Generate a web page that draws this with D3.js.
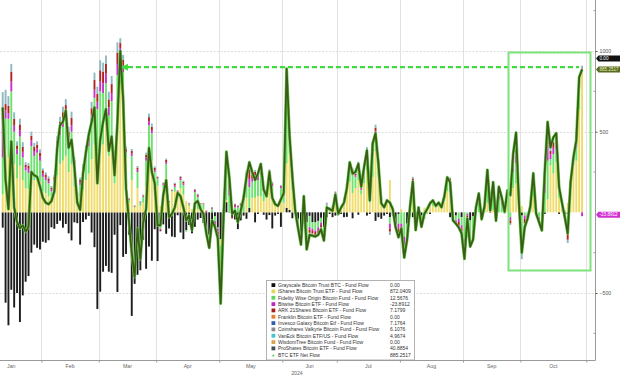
<!DOCTYPE html>
<html>
<head>
<meta charset="utf-8">
<script src="https://cdn.jsdelivr.net/npm/d3@7"></script>
<style>
  html, body { margin: 0; padding: 0; background: #fff; }
  svg { display: block; font-family: "Liberation Sans", Arial, sans-serif; }
</style>
</head>
<body>
<div id="chart"></div>
<script>
//! ===== 0. Data (US$ m, one value per trading day, 11 Jan -> 30 Oct 2024) =====
const netFlow = [
  650, 200, 20, 440, 30, -60, -100, -80, -120, -90, 250, 230, 220, 160,
  90, 60, 50, 70, 130, 400, 540, 560, 630, 400, 450, 280, 60, 15, 240, 370, 480, 560, 650, 180,
  450, 560, 640, 380, 470, 230, 560, 1000, 700, 150, -50, -250, -400, -100, -290, -60, 20, 400, 250, 180,
  -80, -80, 110, 200, -30, -10, 30, 120, 100, 30, -50, -20, -110, 56, 70, 20, -10, -130, -220, -50, -90, -160,
  -565, -30, 375, 220, -10, 10, -60, 10, 90, 220, 310, 250, 200, 240, 300, 140, 100, 250, 90, 50, 40, 80,
  120, 890, 480, 220, 10, -100, -200, 100, -230, -140, -145, -150, -140, -105, -175, 30, 20, 10, 110,
  -10, 30, 60, 150, 310, 240, 250, 300, 160, 280, 384, 74, 427, 490, 300, 56, 31, 74, 60, 20, -93, -155,
  -100, -280, -170, 30, 190, -110, 30, -90, -10, 20, 56, 74, 40, 60, 31, 100, 217, 186, -50, -70, -93, -130,
  -288, -38, -212, -169, 28, 117, -43, 39, 263, 12, 187, -52, 158, 92, 4, 136, 106, 365, 494, 61,
  -250, -93, -40, 40, 242, -8, -60, -112, 250, 560, 403, 465, 490, 155, 60, -31, -130, 186, 341, 446, 837, 885
];
const gbtcFlow = [
  -95, -560, -700, -480, -590, -500, -680, -515, -430, -395, -250, -200, -220, -230,
  -182, -188, -173, -93, -102, -72, -52, -95, -72, -130, -174, -62, -67, -200, -60, -44, -22, -125, -216, -599,
  -492, -368, -332, -368, -375, -139, -494, -79, -276, -258, -139, -642, -443, -387, -359, -170, -350, -212, -300, -105,
  -302, -81, -75, -133, -100, -150, -154, -18, -125, -166, -110, -79, -130, -90, -45, -35, -66, -130, -139, -82, -25, -94,
  -167, -54, 63, 4, -28, -44, -104, -50, -20, -40, 27, 0, -62, -10, 0, -15, -45, -17, -100, -20, -10, -90,
  0, 28, 15, -37, 0, -40, -121, 0, -62, -22, -62, -62, -53, -34, -90, -30, -10, -30, -20,
  0, -10, -30, -28, 0, -37, 0, -15, 0, 0, -20, -10, 0, -53, -30, -40, -20, -10, -30, -20, -73, -10,
  0, 0, -70, -20, -30, -30, 0, -20, 0, 0, -10, 0, 0, 0, 0, 0, 0, -30, -10, -20, 0, -30,
  0, 0, -50, -23, 0, 0, 0, 0, 0, 0, 0, 0, 0, 0, 0, 0, 0, 0, 0, 0,
  -20, 0, 0, 0, 0, 0, 0, 0, -10, 0, 0, 0, 0, -10, 0, -15, -10, 0, 0, 0, 0, 0
];
const ibitFlow = [
  112, 386, 340, 450, 300, 210, 290, 200, 150, 145, 230, 200, 210, 190,
  130, 120, 100, 70, 110, 230, 300, 320, 350, 250, 300, 160, 60, 100, 140, 200, 240, 330, 420, 380,
  420, 420, 550, 350, 400, 180, 500, 849, 590, 340, 60, 200, 30, 150, 40, 60, 160, 320, 320, 100,
  165, 40, 150, 210, 60, 130, 128, 100, 150, 110, 70, 40, 20, 70, 20, 30, 20, 0, 0, 0, 0, 0,
  -37, 0, 12, 0, 0, 0, 0, 0, 0, 90, 0, 90, 90, 100, 100, 70, 90, 180, 100, 60, 40, 100,
  60, 274, 350, 140, 20, 0, 0, 50, 0, 0, 0, 0, 0, 0, 0, 30, 10, 20, 100,
  10, 30, 60, 120, 190, 120, 150, 200, 110, 180, 260, 60, 220, 380, 220, 70, 40, 60, 200, 40, 0, 0,
  20, 0, 0, 50, 100, 0, 20, 0, 30, 30, 40, 40, 30, 40, 30, 70, 130, 120, 0, 0, 0, 0,
  0, 0, 0, 0, 0, 0, 0, 0, 60, 16, 15, 0, 0, 0, 0, 99, 184, 150, 180, 30,
  40, 0, 0, 0, 97, 0, 0, 0, 0, 80, 290, 240, 310, 90, 60, 0, 60, 150, 290, 320, 640, 872
];
const fbtcFlow = [
  227, 195, 240, 300, 200, 150, 180, 140, 110, 100, 180, 150, 160, 130,
  90, 80, 80, 60, 80, 150, 180, 210, 220, 180, 200, 120, 40, 70, 100, 140, 170, 230, 290, 260,
  330, 320, 250, 250, 290, 120, 350, 150, 280, 30, 15, 150, 5, 100, 20, 35, 160, 220, 170, 150,
  45, -20, 20, 90, 5, 5, 30, 25, 50, 60, -10, 10, 0, 55, 75, 20, 30, -10, -40, 20, -30, -6,
  -191, 5, 160, 100, 20, 30, 30, 40, 80, 120, 130, 100, 120, 100, 130, 60, 30, 60, 60, 10, 10, 50,
  40, 379, 80, 70, -10, -30, -40, 30, -100, -70, -40, -50, -40, -30, -40, 20, 10, 10, 20,
  -10, 10, 20, 40, 80, 110, 70, 80, 30, 60, 90, 20, 130, 100, 70, 20, 10, 15, -40, 0, -10, -60,
  -70, -150, -60, -10, 80, -50, 10, -40, -30, -10, 20, 25, 10, 15, 0, 20, 60, 70, -20, -30, -40, -50,
  -162, -10, -150, -90, 30, 70, -20, 20, 110, 0, 56, -20, 80, 50, 10, 20, -30, 100, 125, 20,
  -144, -20, -10, 20, 103, 0, -30, -60, 120, 240, 40, 120, 80, 50, 0, 10, -60, 20, 30, 80, 130, 12.6
];
const bitbFlow = [
  238, 50, 35, 60, 40, 30, 40, 35, 20, 25, 35, 30, 25, 25,
  20, 15, 15, 12, 15, 30, 40, 45, 45, 35, 40, 20, 10, 15, 20, 25, 30, 40, 50, 45,
  60, 60, 60, 50, 50, 25, 70, 20, 40, 10, 5, 15, 3, 15, 3, 5, 20, 25, 20, 10,
  5, -5, 5, 10, 0, 0, 10, 5, 10, 10, 0, 3, 0, 8, 8, 0, 3, 5, -10, 5, -15, -20,
  -30, 5, 60, 50, 5, 10, 5, 5, 10, 20, 50, 20, 20, 20, 25, 10, 10, 10, 10, 0, 0, 10,
  10, 60, 15, 20, 0, -10, -10, 10, -20, -15, -10, -10, -20, -15, -20, 5, 5, 5, 5,
  0, 0, 5, 8, 15, 20, 10, 15, 10, 15, 20, 0, 30, 25, 15, 0, 0, 5, -30, 0, -5, -30,
  -20, -50, -10, 5, 15, -10, 0, -10, -5, 0, 3, 5, 0, 5, 0, 5, 10, 10, -10, -10, -20, -20,
  -30, -10, -5, -20, 0, 20, -10, 10, 40, -2, 40, -10, 30, 20, -3, 5, -20, 40, 60, 5,
  -20, -20, -10, 10, 20, -4, -10, -20, 60, 100, 30, 40, 30, 10, 0, -10, -60, 5, 8, 20, 25, -23.9
];
const arkbFlow = [
  65, 40, 45, 60, 40, 25, 35, 30, 15, 20, 30, 25, 25, 25,
  20, 20, 15, 12, 15, 35, 40, 45, 50, 35, 45, 25, 10, 15, 20, 25, 35, 45, 60, 50,
  70, 70, 60, 50, 55, 25, 70, 30, 35, 15, 5, 15, 3, 12, 3, 5, 15, 25, 20, 15,
  5, -10, 5, 15, 5, 5, 10, 5, 10, 10, 0, 3, 0, 8, 8, 5, 3, 5, -31, 5, -15, -31,
  -99, 5, 40, 40, -10, 10, 5, 10, 12, 15, 60, 25, 20, 15, 25, 8, 10, 10, 10, 0, 0, 5,
  5, 70, 10, 15, 0, -15, -20, 5, -30, -20, -20, -20, -15, -15, -15, 0, 0, 0, 0,
  -5, 0, 0, 5, 15, 15, 10, 10, 5, 15, 20, 0, 25, 20, 15, 0, 0, 0, -20, 0, -5, -40,
  -20, -50, -20, 5, 15, -15, 0, -15, -5, 0, 3, 4, 0, 0, 0, 5, 10, 10, -10, -10, -23, -20,
  -40, -10, -5, -25, -2, 15, -10, 5, 30, -2, 50, -15, 30, 15, -3, 7, -20, 50, 80, 5,
  -60, -30, -10, 5, 12, -4, -15, -20, 50, 70, 20, 35, 35, 10, 0, -10, -40, 6, 8, 15, 25, 7.2
];
const otherFlow = [
  103, 89, 60, 50, 40, 25, 35, 30, 15, 15, 25, 25, 20, 20,
  12, 13, 13, 9, 12, 27, 32, 35, 37, 30, 39, 17, 7, 15, 20, 24, 27, 40, 46, 44,
  62, 58, 52, 48, 50, 19, 64, 30, 31, 13, 4, 12, 2, 10, 3, 5, 15, 22, 20, 10,
  2, -4, 5, 8, 0, 0, 6, 3, 5, 6, 0, 3, 0, 5, 4, 0, 0, 0, 0, 2, -5, -9,
  -41, 9, 40, 26, 3, 4, 4, 5, 8, 15, 43, 15, 12, 15, 20, 7, 5, 7, 10, 0, 0, 5,
  5, 79, 10, 12, 0, -5, -9, 5, -18, -13, -13, -8, -12, -11, -10, 5, 5, 5, 5,
  -5, 0, 5, 5, 10, 12, 10, 10, 5, 10, 14, 4, 22, 18, 10, 6, 1, 4, -20, 0, 0, -15,
  -10, -30, -10, 0, 10, -5, 0, -5, 0, 0, 0, 0, 0, 0, 1, 0, 7, 6, 0, 0, -10, -10,
  -56, -8, -2, -11, 0, 12, -3, 4, 23, 0, 26, -7, 18, 7, 0, 5, -8, 25, 49, 1,
  -46, -23, -10, 5, 10, 0, -5, -12, 30, 70, 23, 30, 35, 5, 0, -6, -20, 5, 5, 11, 17, 17.1
];

const legendNames = [
  "Grayscale Bitcoin Trust BTC - Fund Flow",
  "iShares Bitcoin Trust ETF - Fund Flow",
  "Fidelity Wise Origin Bitcoin Fund - Fund Flow",
  "Bitwise Bitcoin ETF - Fund Flow",
  "ARK 21Shares Bitcoin ETF - Fund Flow",
  "Franklin Bitcoin ETF - Fund Flow",
  "Invesco Galaxy Bitcoin Etf - Fund Flow",
  "Coinshares Valkyrie Bitcoin Fund - Fund Flow",
  "VanEck Bitcoin ETF/US - Fund Flow",
  "WisdomTree Bitcoin Fund - Fund Flow",
  "ProShares Bitcoin ETF - Fund Flow",
  "BTC ETF Net Flow"
];
const legendValues = ["0.00", "872.0409", "12.5676", "-23.8912", "7.1799", "0.00",
  "7.1764", "6.1076", "4.9674", "0.00", "40.8854", "885.2517"];
const legendColors = ["#111111", "#e3d65a", "#5fd35f", "#c026c0", "#a81c1c", "#e8802a",
  "#2f5fb0", "#8a8a8a", "#45c3d3", "#d8a24a", "#3f4f5a", "#38c038"];

const yTicks = [-500, 500, 1000];
const yMinorTicks = [-750, -250, 250, 750, 1250];
const marketHolidays = ["2024-01-15", "2024-02-19", "2024-03-29", "2024-05-27",
  "2024-06-19", "2024-07-04", "2024-09-02"];

//! ===== I. Calendar of trading days =====
const fmtDay = d3.timeFormat("%Y-%m-%d");
const days = d3.timeDays(new Date(2024, 0, 2), new Date(2024, 10, 1))
  .filter(d => d.getDay() !== 0 && d.getDay() !== 6 && !marketHolidays.includes(fmtDay(d)));
const firstDay = 7; // 11 Jan = 8th session of the year

const rows = netFlow.map((v, i) => ({
  j: firstDay + i,
  net: v,
  gbtc: gbtcFlow[i],
  ibit: ibitFlow[i],
  fbtc: fbtcFlow[i],
  bitb: bitbFlow[i],
  arkb: arkbFlow[i],
  other: otherFlow[i]
}));

// month boundaries (half a session before first session of each month)
const bounds = [-0.5];
for (let m = 1; m < 10; m++) bounds.push(days.findIndex(d => d.getMonth() === m) - 0.5);
bounds.push(days.length - 0.5);

//! ===== II. Chart =====
const W = 620, H = 375;
const plotRight = 595.5, plotBottom = 360.5;

const svg = d3.select("#chart").append("svg")
  .attr("width", W)
  .attr("height", H);

const step = 2.868;
const x = d3.scaleLinear()
  .domain([firstDay, firstDay + rows.length - 1])
  .range([2.7, 2.7 + (rows.length - 1) * step]);

const y = d3.scaleLinear()
  .domain([-500, 1000])
  .range([293, 51]);

svg.append("clipPath").attr("id", "plot-clip")
  .append("rect").attr("x", 0).attr("y", 0).attr("width", plotRight).attr("height", plotBottom);

// Gridlines
const grid = svg.append("g");
grid.selectAll("line.v")
  .data(bounds.slice(1))
  .enter().append("line")
  .attr("x1", d => Math.round(x(d)) + 0.5).attr("x2", d => Math.round(x(d)) + 0.5)
  .attr("y1", 0).attr("y2", plotBottom)
  .attr("stroke", "#e2e2e2").attr("stroke-width", 1);
grid.selectAll("line.h")
  .data(yTicks)
  .enter().append("line")
  .attr("x1", 0).attr("x2", plotRight)
  .attr("y1", d => Math.round(y(d)) + 0.5).attr("y2", d => Math.round(y(d)) + 0.5)
  .attr("stroke", "#dcdcdc").attr("stroke-width", 1)
  .attr("stroke-dasharray", "2,1.5");

// Stacked bars
const keys = ["gbtc", "ibit", "fbtc", "bitb", "arkb", "other"];
const barColors = {
  gbtc: "#1c1c1c", ibit: "#efdc6a", fbtc: "#6ee26e",
  bitb: "#c832c8", arkb: "#b02222", other: "#8fb8c0"
};
const stacked = d3.stack().keys(keys).offset(d3.stackOffsetDiverging)(rows);

const plot = svg.append("g").attr("clip-path", "url(#plot-clip)");
const barW = 1.9;

plot.selectAll("g.series")
  .data(stacked)
  .enter().append("g")
  .attr("fill", d => barColors[d.key])
  .selectAll("rect")
  .data(d => d)
  .enter().append("rect")
  .attr("x", d => x(d.data.j) - barW / 2)
  .attr("width", barW)
  .attr("y", d => y(Math.max(d[0], d[1])))
  .attr("height", d => Math.abs(y(d[0]) - y(d[1])));

// Net flow line
const netLine = d3.line()
  .x(d => x(d.j))
  .y(d => y(d.net));

plot.append("path")
  .datum(rows)
  .attr("fill", "none")
  .attr("stroke", "#67cf4f")
  .attr("stroke-width", 3)
  .attr("stroke-linejoin", "round")
  .attr("d", netLine);
plot.append("path")
  .datum(rows)
  .attr("fill", "none")
  .attr("stroke", "#3c5a18")
  .attr("stroke-width", 1.8)
  .attr("stroke-linejoin", "round")
  .attr("d", netLine);

// Annotation: dashed level line with arrow, highlight box
const lastRow = rows[rows.length - 1];
const levelY = y(900);
svg.append("line")
  .attr("x1", 128).attr("x2", x(lastRow.j) - 3)
  .attr("y1", levelY).attr("y2", levelY)
  .attr("stroke", "#3fdc3f").attr("stroke-width", 2.2)
  .attr("stroke-dasharray", "5,3");
svg.append("path")
  .attr("d", `M121,${levelY} L128,${levelY - 3.5} L128,${levelY + 3.5} Z`)
  .attr("fill", "#3fdc3f");

svg.append("rect")
  .attr("x", 508.5).attr("y", 52.5)
  .attr("width", 82).attr("height", 218)
  .attr("fill", "none")
  .attr("stroke", "#7ee27e").attr("stroke-width", 2);

//! ===== III. Axes =====
// bottom
svg.append("line")
  .attr("x1", 0).attr("x2", plotRight)
  .attr("y1", plotBottom).attr("y2", plotBottom)
  .attr("stroke", "#9a9a9a");
const xAxis = svg.append("g")
  .attr("transform", `translate(0,${plotBottom})`)
  .call(d3.axisBottom(x).tickValues(bounds.slice(1)).tickSize(2).tickFormat(""));
xAxis.select(".domain").remove();
xAxis.selectAll("line").attr("stroke", "#9a9a9a");

const monthFmt = d3.timeFormat("%b");
svg.selectAll("text.month")
  .data(d3.range(10))
  .enter().append("text")
  .attr("x", m => x((bounds[m] + bounds[m + 1]) / 2))
  .attr("y", 367.5)
  .attr("text-anchor", "middle")
  .attr("font-size", 5.2)
  .attr("fill", "#666")
  .text(m => monthFmt(new Date(2024, m, 1)));
svg.append("text")
  .attr("x", 297).attr("y", 374.5)
  .attr("text-anchor", "middle")
  .attr("font-size", 5.2)
  .attr("fill", "#666")
  .text("2024");

// right
svg.append("line")
  .attr("x1", plotRight).attr("x2", plotRight)
  .attr("y1", 0).attr("y2", plotBottom)
  .attr("stroke", "#9a9a9a");
const yAxis = svg.append("g")
  .attr("transform", `translate(${plotRight},0)`)
  .call(d3.axisRight(y).tickValues(yTicks).tickSize(2).tickFormat(d3.format("d")));
yAxis.select(".domain").remove();
yAxis.selectAll("line").attr("stroke", "#555");
yAxis.selectAll("text")
  .attr("font-size", 5.2)
  .attr("fill", "#555")
  .attr("x", 4);
svg.selectAll("line.minor")
  .data(yMinorTicks)
  .enter().append("line")
  .attr("x1", plotRight - 2).attr("x2", plotRight)
  .attr("y1", d => y(d)).attr("y2", d => y(d))
  .attr("stroke", "#999");

// last value tags
const tags = [
  { v: 0, yPos: 58.5, text: legendValues[0], fill: "#111", color: "#fff" },
  { v: lastRow.net, yPos: y(lastRow.net), text: legendValues[11], fill: "#566b1c", color: "#eef0c8" },
  { v: bitbFlow[bitbFlow.length - 1], yPos: y(bitbFlow[bitbFlow.length - 1]) - 1.5, text: legendValues[3], fill: "#d22fd2", color: "#fff" }
];
const tagG = svg.selectAll("g.tag")
  .data(tags)
  .enter().append("g");
tagG.append("path")
  .attr("d", d => `M${plotRight + 0.5},${d.yPos} L${plotRight + 3},${d.yPos - 3} L620,${d.yPos - 3} L620,${d.yPos + 3} L${plotRight + 3},${d.yPos + 3} Z`)
  .attr("fill", d => d.fill);
tagG.append("text")
  .attr("x", plotRight + 4)
  .attr("y", d => d.yPos + 1.7)
  .attr("font-size", 4.6)
  .attr("fill", d => d.color)
  .text(d => d.text);

//! ===== IV. Legend =====
const lg = svg.append("g").attr("transform", "translate(266.5,280.5)");
lg.append("rect")
  .attr("width", 148).attr("height", 79.5)
  .attr("fill", "#fff")
  .attr("stroke", "#a0a0a0").attr("stroke-width", 0.8);

const items = lg.selectAll("g.item")
  .data(legendNames)
  .enter().append("g")
  .attr("transform", (d, i) => `translate(0,${4.6 + i * 6.33})`);
items.filter((d, i) => i < 11).append("rect")
  .attr("x", 5).attr("y", -1.9)
  .attr("width", 3.8).attr("height", 3.8)
  .attr("fill", (d, i) => legendColors[i]);
items.filter((d, i) => i === 11).append("text")
  .attr("x", 5).attr("y", 1.9)
  .attr("font-size", 5.5)
  .attr("font-weight", "bold")
  .attr("fill", legendColors[11])
  .text("+");
items.append("text")
  .attr("x", 11.5).attr("y", 1.8)
  .attr("font-size", 5)
  .attr("fill", "#333")
  .text(d => d);
items.append("text")
  .attr("x", 123.5).attr("y", 1.8)
  .attr("font-size", 5)
  .attr("fill", "#333")
  .text((d, i) => legendValues[i]);
</script>
</body>
</html>
